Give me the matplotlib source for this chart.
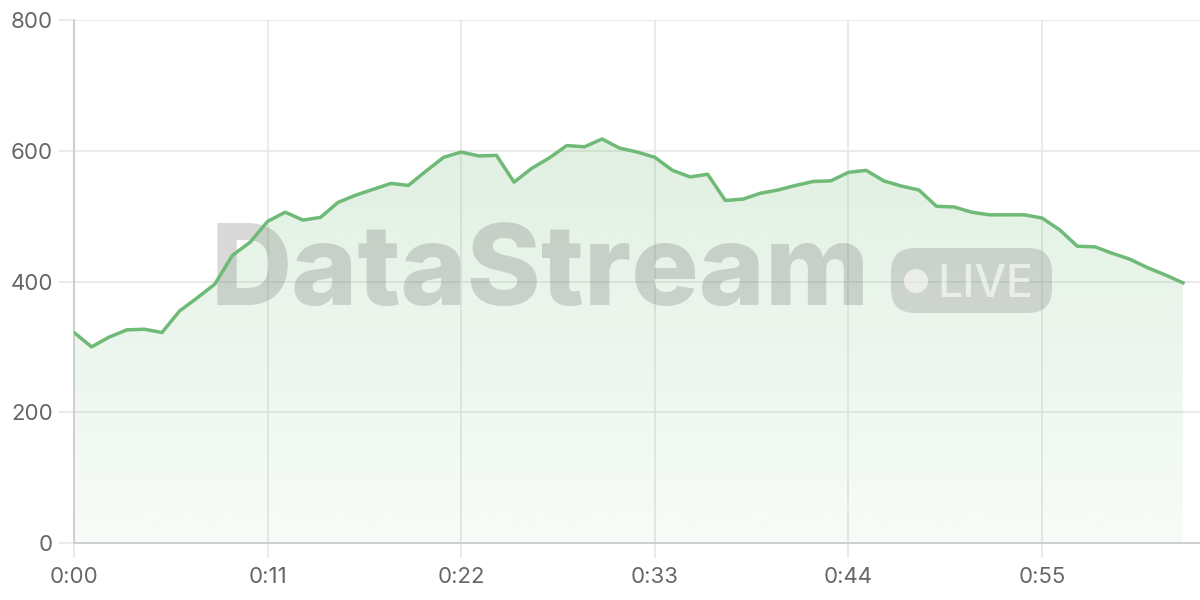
import numpy as np
import matplotlib.pyplot as plt
from matplotlib.patches import FancyBboxPatch, Ellipse, Polygon

# data (one point per second)
secs = np.arange(64)
vals = [322, 300, 315, 326, 327, 322, 355, 375, 396, 440,
        460, 492, 506, 494, 498, 521, 532, 541, 550, 547,
        569, 590, 598, 592, 593, 552, 573, 589, 608, 606,
        618, 604, 598, 590, 570, 560, 564, 524, 526, 535,
        540, 547, 553, 554, 567, 570, 554, 546, 540, 515,
        514, 506, 502, 502, 502, 497, 479, 454, 453, 443,
        434, 421, 410, 398]
xticks = [0, 11, 22, 33, 44, 55]
xlabels = ['0:00', '0:11', '0:22', '0:33', '0:44', '0:55']
yticks = [0, 200, 400, 600, 800]

plt.rcParams['font.family'] = ['Inter', 'DejaVu Sans']

fig = plt.figure(figsize=(12, 6), dpi=100)
ax = fig.add_axes([74/1200, 57/600, 1126/1200, 523/600])

line_col = '#6fba76'

# gradient fill under the line
grad = np.linspace(0.05, 0.27, 256).reshape(-1, 1)
cols = np.zeros((256, 1, 4))
cols[..., 0] = 0x72/255
cols[..., 1] = 0xbb/255
cols[..., 2] = 0x78/255
cols[..., 3] = grad
img = ax.imshow(cols, extent=[0, 63, 0, 800], origin='lower', aspect='auto', zorder=1)
poly = Polygon(np.column_stack([np.r_[0, secs, 63], np.r_[0, vals, 0]]),
               closed=True, facecolor='none', edgecolor='none')
ax.add_patch(poly)
img.set_clip_path(poly)

ax.plot(secs, vals, color=line_col, lw=2.5, zorder=5, solid_joinstyle='round')

ax.set_xlim(0, 63.97)
ax.set_ylim(0, 800)
ax.set_xticks(xticks)
ax.set_xticklabels(xlabels)
ax.set_yticks(yticks)
ax.grid(True, color='#e6e6e6', lw=1.2, zorder=0)
ax.set_axisbelow(True)
for s in ['top', 'right']:
    ax.spines[s].set_visible(False)
ax.spines['left'].set_color('#cccccc')
ax.spines['bottom'].set_color('#cccccc')
ax.spines['left'].set_linewidth(1.3)
ax.spines['bottom'].set_linewidth(1.3)
ax.tick_params(axis='both', length=11, color='#e6e6e6', width=1.2,
               labelsize=16, labelcolor='#666666')
ax.tick_params(axis='x', pad=6)
ax.tick_params(axis='y', pad=4)

# watermark (under the line, over the fill)
tf = fig.transFigure
ax.text(540/1200, 1 - 305/600, 'DataStream', fontsize=81, fontweight='heavy',
        color='#777777', alpha=0.28, ha='center', va='baseline', zorder=3,
        transform=tf, clip_on=False)
badge = FancyBboxPatch((891/1200, 1 - 313/600), 161/1200, 65/600,
                       boxstyle='round,pad=0,rounding_size=0.02',
                       transform=tf, facecolor='#777777',
                       edgecolor='none', alpha=0.25, zorder=3,
                       mutation_aspect=2, clip_on=False)
ax.add_artist(badge)
ax.add_artist(Ellipse((916/1200, 1 - 281/600), 24/1200, 24/600, transform=tf,
                      facecolor='white', alpha=0.6, edgecolor='none', zorder=4,
                      clip_on=False))
ax.text(985/1200, 1 - 297/600, 'LIVE', fontsize=32, fontweight='medium', color='white',
        alpha=0.6, ha='center', va='baseline', zorder=4, transform=tf, clip_on=False)

fig.savefig('out.png', dpi=100)
